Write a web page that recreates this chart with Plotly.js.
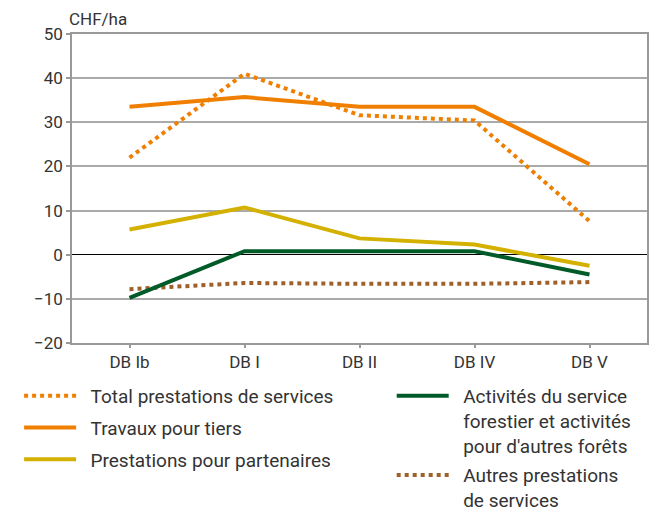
<!DOCTYPE html>
<html>
<head>
<meta charset="utf-8">
<script src="https://cdn.plot.ly/plotly-3.0.1.min.js"></script>
<style>
  html, body { margin: 0; padding: 0; background: #fff; }
  #chart { width: 650px; height: 518px; }
</style>
</head>
<body>
<div id="chart"></div>
<script>
var categories = ['DB Ib', 'DB I', 'DB II', 'DB IV', 'DB V'];

var totalPrestations = [22.0, 41.0, 31.6, 30.4, 7.6];
var travauxTiers = [33.5, 35.7, 33.5, 33.5, 20.5];
var prestationsPartenaires = [5.7, 10.7, 3.7, 2.3, -2.5];
var activitesService = [-9.8, 0.8, 0.8, 0.8, -4.5];
var autresPrestations = [-7.8, -6.4, -6.6, -6.6, -6.2];

var yTicks = [-20, -10, 0, 10, 20, 30, 40, 50];

var orange = '#f07f00';
var yellow = '#d4b100';
var green = '#005b29';
var brown = '#a0602c';

// extra gap between legend symbol and text
var pad = '\u00a0\u00a0';

var trace1 = {
  x: categories, y: totalPrestations,
  name: pad + 'Total prestations de services',
  type: 'scatter', mode: 'lines',
  line: {color: orange, width: 4, dash: '4px,4px'},
  legend: 'legend', legendgroup: 'g1', legendrank: 1
};

var trace2 = {
  x: categories, y: travauxTiers,
  name: pad + 'Travaux pour tiers',
  type: 'scatter', mode: 'lines',
  line: {color: orange, width: 4},
  legend: 'legend', legendgroup: 'g2', legendrank: 2
};

var trace3 = {
  x: categories, y: prestationsPartenaires,
  name: pad + 'Prestations pour partenaires',
  type: 'scatter', mode: 'lines',
  line: {color: yellow, width: 4},
  legend: 'legend', legendgroup: 'g3', legendrank: 3
};

var trace4 = {
  x: categories, y: activitesService,
  name: pad + 'Activités du service<br>' + pad + 'forestier et activités<br>' + pad + 'pour d\'autres forêts',
  type: 'scatter', mode: 'lines',
  line: {color: green, width: 4},
  legend: 'legend2', legendgroup: 'g4', legendrank: 4
};

var trace5 = {
  x: categories, y: autresPrestations,
  name: pad + 'Autres prestations<br>' + pad + 'de services',
  type: 'scatter', mode: 'lines',
  line: {color: brown, width: 4, dash: '4px,4px'},
  legend: 'legend2', legendgroup: 'g5', legendrank: 5
};

// draw order: background lines first
var data = [trace5, trace4, trace3, trace1, trace2];

var legendFont = {family: 'Roboto, sans-serif', size: 19, color: '#333'};

var layout = {
  width: 650,
  height: 518,
  margin: {l: 72, r: 3, t: 34, b: 175, autoexpand: false},
  paper_bgcolor: '#fff',
  plot_bgcolor: '#fff',
  font: {family: 'Roboto, sans-serif', size: 17, color: '#333'},
  showlegend: true,
  xaxis: {
    type: 'category',
    range: [-0.5, 4.5],
    showline: true, linecolor: '#999', linewidth: 1.5, mirror: true,
    ticks: 'outside', ticklen: 3, tickcolor: '#999', tickwidth: 1.5,
    showgrid: false,
    tickfont: {size: 17, color: '#333'}
  },
  yaxis: {
    range: [-20, 50],
    tickvals: yTicks,
    showline: true, linecolor: '#999', linewidth: 1.5, mirror: true,
    ticks: 'outside', ticklen: 4, tickcolor: '#999', tickwidth: 1.5,
    gridcolor: '#aaa', gridwidth: 1.5,
    zeroline: true, zerolinecolor: '#000', zerolinewidth: 1.2,
    tickfont: {size: 17, color: '#333'}
  },
  legend: {
    x: -0.092, y: -0.11,
    xanchor: 'left', yanchor: 'top',
    orientation: 'v',
    font: legendFont,
    traceorder: 'grouped',
    tracegroupgap: 4,
    itemwidth: 52,
    bgcolor: 'rgba(0,0,0,0)'
  },
  legend2: {
    x: 0.556, y: -0.11,
    xanchor: 'left', yanchor: 'top',
    orientation: 'v',
    valign: 'top',
    font: legendFont,
    traceorder: 'grouped',
    tracegroupgap: 2,
    itemwidth: 52,
    bgcolor: 'rgba(0,0,0,0)'
  },
  annotations: [{
    text: 'CHF/ha',
    xref: 'paper', yref: 'paper',
    x: 0, y: 1, xanchor: 'left', yanchor: 'bottom',
    xshift: -5, yshift: 3,
    showarrow: false,
    font: {size: 17, color: '#333'}
  }]
};

Plotly.newPlot('chart', data, layout, {displayModeBar: false});
</script>
</body>
</html>
